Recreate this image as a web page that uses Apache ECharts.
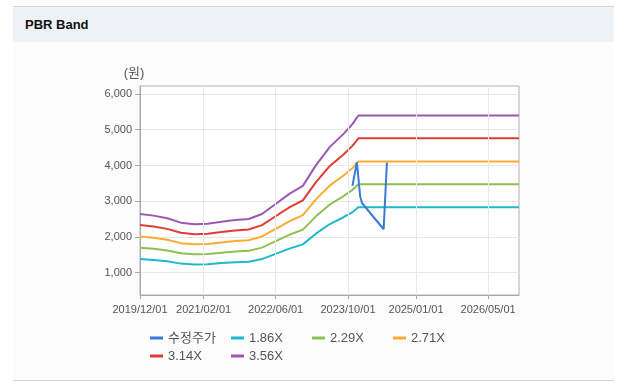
<!DOCTYPE html>
<html><head><meta charset="utf-8">
<script src="https://cdn.jsdelivr.net/npm/echarts@6/dist/echarts.min.js"></script>
<style>
html,body{margin:0;padding:0;background:#fff;width:620px;height:386px;overflow:hidden;font-family:"Liberation Sans",Arial,"Noto Sans CJK KR",sans-serif;}
#panel{position:absolute;left:13px;top:6px;width:601px;height:373px;border-top:1px solid #d4d4d4;border-bottom:1px solid #d4d4d4;background:#fcfcfc;}
#head{position:absolute;left:0;top:0;width:100%;height:35px;background:#eef2f6;}
#title{position:absolute;left:12px;top:0;line-height:35px;font-weight:bold;font-size:13px;color:#111;}
#chart{position:absolute;left:0;top:0;width:620px;height:386px;}
</style></head>
<body>
<div id="panel"><div id="head"><div id="title">PBR Band</div></div></div>
<div id="chart"></div>
<script>
// ---- data ----
const bandDates = ['2019-12-01','2020-03-01','2020-06-01','2020-09-01','2020-12-01','2021-03-01','2021-06-01','2021-09-01','2021-12-01','2022-03-01','2022-06-01','2022-09-01','2022-12-01','2023-03-01','2023-06-01','2023-09-01','2023-11-01','2023-12-10','2026-11-25'];
const band186 = [1381,1357,1319,1254,1231,1238,1268,1294,1308,1381,1528,1674,1792,2099,2362,2552,2698,2830,2830];
const band229 = [1701,1671,1624,1544,1516,1524,1561,1593,1611,1701,1881,2061,2206,2584,2908,3142,3322,3472,3472];
const band271 = [2013,1977,1921,1827,1793,1804,1847,1885,1906,2013,2226,2439,2610,3058,3442,3719,3932,4109,4109];
const band314 = [2332,2291,2226,2117,2078,2090,2140,2184,2209,2332,2579,2826,3024,3543,3988,4309,4556,4761,4761];
const band356 = [2644,2597,2524,2400,2356,2370,2426,2476,2504,2644,2924,3204,3429,4017,4521,4885,5165,5398,5398];
const priceDates = ['2023-10-31','2023-11-30','2023-12-22','2024-01-03','2024-05-28','2024-06-19'];
const priceValues = [3430,4090,3130,2950,2216,4080];
const seriesNames = ['수정주가','1.86X','2.29X','2.71X','3.14X','3.56X'];
const xTickLabels = ['2019/12/01','2021/02/01','2022/06/01','2023/10/01','2025/01/01','2026/05/01'];
const yTickValues = [1000,2000,3000,4000,5000,6000];
const xMin = '2019-12-01', xMax = '2026-11-25';
const yMin = 376, yMax = 6224;

// ---- helpers ----
function ts(s){const p=s.split(/[-\/]/).map(Number);return new Date(p[0],p[1]-1,p[2]).getTime();}
function pad(n){return (n<10?'0':'')+n;}
function fmtDate(v){const d=new Date(v);return d.getFullYear()+'/'+pad(d.getMonth()+1)+'/'+pad(d.getDate());}
function pairs(dates,vals){return dates.map((d,i)=>[ts(d),vals[i]]);}

const FONT='"Liberation Sans", Arial, "Noto Sans CJK KR", sans-serif';
const colors = ['#3b7ad6','#1eb8cf','#8cc152','#ffaa33','#e03c34','#9c57b4'];
const bandVals=[band186,band229,band271,band314,band356];
const xTicks = xTickLabels.map(ts);

const series=[];
series.push({name:'__grid',type:'line',data:[],silent:true,z:1,
  markLine:{silent:true,symbol:['none','none'],label:{show:false},animation:false,
    lineStyle:{color:'#e8e8e8',width:1,type:'solid'},
    data:xTicks.slice(1).map(t=>({xAxis:t}))}});
series.push({name:seriesNames[0],type:'line',data:pairs(priceDates,priceValues),showSymbol:false,
  lineStyle:{width:2,color:colors[0]},itemStyle:{color:colors[0]},z:5});
bandVals.forEach((vals,i)=>{
  series.push({name:seriesNames[i+1],type:'line',data:pairs(bandDates,vals),showSymbol:false,
   lineStyle:{width:2,color:colors[i+1]},itemStyle:{color:colors[i+1]},z:3});
});

const chart=echarts.init(document.getElementById('chart'),null,{renderer:'canvas'});
chart.setOption({
  animation:false,
  backgroundColor:'transparent',
  textStyle:{fontFamily:FONT},
  grid:{left:140,top:86,right:101,bottom:91,show:true,borderColor:'#b0b0b0',borderWidth:1,backgroundColor:'#fff'},
  legend:{data:seriesNames,left:150,top:331,width:330,padding:0,itemGap:4,itemWidth:13,itemHeight:3,icon:'rect',
    textStyle:{fontSize:13,color:'#555',width:59,lineHeight:14,fontFamily:FONT,padding:[0,0,0,0]}},
  xAxis:{type:'value',min:ts(xMin),max:ts(xMax),scale:true,
    axisLine:{lineStyle:{color:'#a8a8a8'}},
    axisTick:{show:true,customValues:xTicks,length:4,lineStyle:{color:'#a8a8a8'}},
    axisLabel:{customValues:xTicks,formatter:v=>fmtDate(v),fontSize:11,color:'#555',margin:9,hideOverlap:false},
    splitLine:{show:false}},
  yAxis:{type:'value',min:yMin,max:yMax,name:'(원)',nameLocation:'end',nameGap:6,
    nameTextStyle:{fontSize:13,color:'#555',padding:[0,12,0,0],fontFamily:FONT},
    axisLine:{show:true,lineStyle:{color:'#a8a8a8'}},
    axisTick:{show:true,customValues:yTickValues,length:5,lineStyle:{color:'#a8a8a8'}},
    axisLabel:{customValues:yTickValues,formatter:v=>v.toLocaleString('en-US'),fontSize:11,color:'#555',margin:8},
    splitLine:{show:true,lineStyle:{color:'#e8e8e8'}}},
  series:series
});
</script>
</body></html>
